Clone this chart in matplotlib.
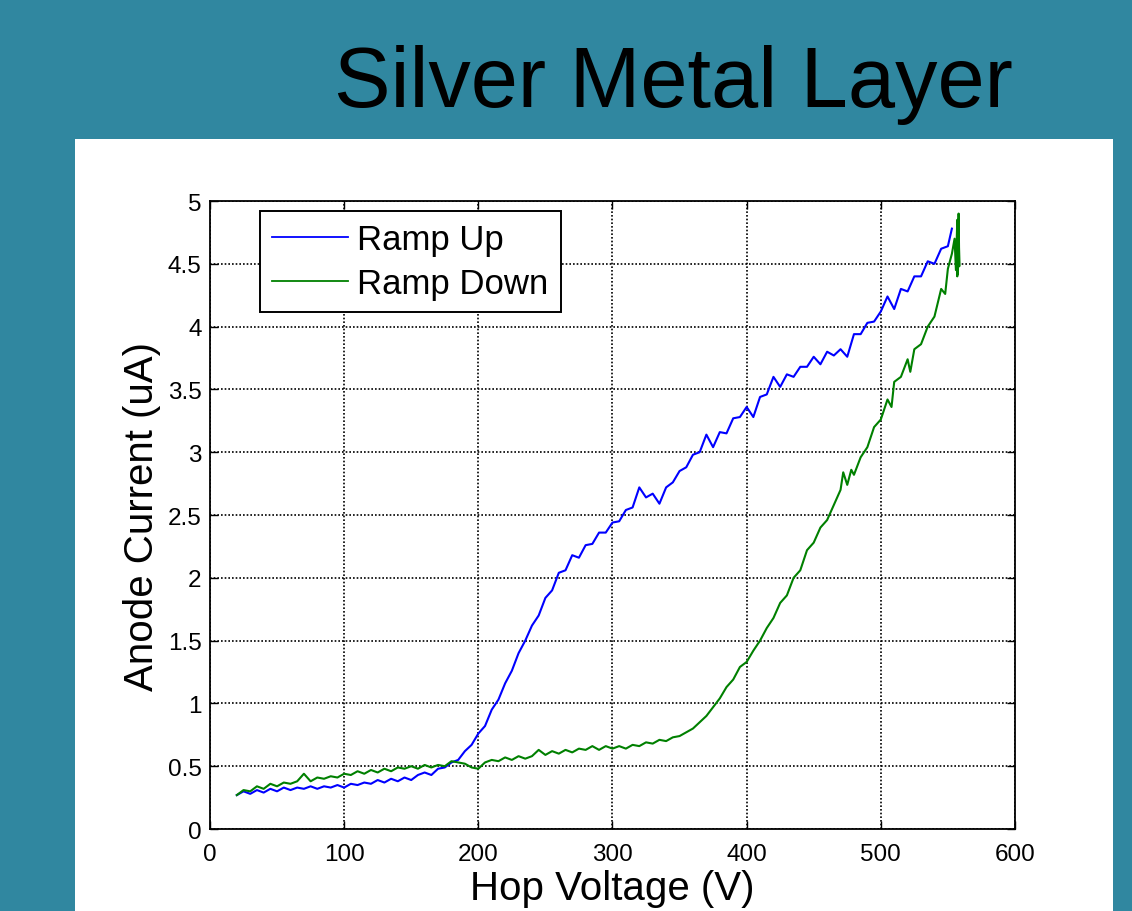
"""Anode current vs hop voltage for the silver metal layer sweep."""

import matplotlib

matplotlib.use("Agg")
import matplotlib.pyplot as plt
from matplotlib.patches import Rectangle

plt.rcParams["font.family"] = ["Liberation Sans", "DejaVu Sans"]

# ramp up sweep: hop voltage (V) and anode current (uA)
ramp_up_v = [
    20, 25, 30, 35, 40, 45, 50, 55, 60, 65,
    70, 75, 80, 85, 90, 95, 100, 105, 110, 115,
    120, 125, 130, 135, 140, 145, 150, 155, 160, 165,
    170, 175, 180, 185, 190, 195, 200, 205, 210, 215,
    220, 225, 230, 235, 240, 245, 250, 255, 260, 265,
    270, 275, 280, 285, 290, 295, 300, 305, 310, 315,
    320, 325, 330, 335, 340, 345, 350, 355, 360, 365,
    370, 375, 380, 385, 390, 395, 400, 405, 410, 415,
    420, 425, 430, 435, 440, 445, 450, 455, 460, 465,
    470, 475, 480, 485, 490, 495, 500, 505, 510, 515,
    520, 525, 530, 535, 540, 545, 550, 553,
]
ramp_up_i = [
    0.27, 0.30, 0.28, 0.31, 0.29, 0.32, 0.30, 0.33, 0.31, 0.33,
    0.32, 0.34, 0.32, 0.34, 0.33, 0.35, 0.33, 0.36, 0.35, 0.37,
    0.36, 0.39, 0.37, 0.40, 0.38, 0.41, 0.39, 0.43, 0.45, 0.43,
    0.48, 0.49, 0.53, 0.55, 0.62, 0.67, 0.76, 0.82, 0.95, 1.03,
    1.16, 1.26, 1.40, 1.50, 1.62, 1.70, 1.84, 1.90, 2.04, 2.06,
    2.18, 2.16, 2.26, 2.27, 2.36, 2.36, 2.44, 2.45, 2.54, 2.56,
    2.72, 2.64, 2.67, 2.59, 2.72, 2.76, 2.85, 2.88, 2.98, 3.00,
    3.14, 3.04, 3.16, 3.15, 3.27, 3.28, 3.36, 3.28, 3.44, 3.46,
    3.60, 3.52, 3.62, 3.60, 3.68, 3.68, 3.76, 3.70, 3.80, 3.77,
    3.82, 3.76, 3.94, 3.94, 4.03, 4.04, 4.12, 4.24, 4.14, 4.30,
    4.28, 4.40, 4.40, 4.52, 4.50, 4.62, 4.64, 4.78,
]

# ramp down sweep: hop voltage (V) and anode current (uA)
ramp_down_v = [
    20, 25, 30, 35, 40, 45, 50, 55, 60, 65,
    70, 75, 80, 85, 90, 95, 100, 105, 110, 115,
    120, 125, 130, 135, 140, 145, 150, 155, 160, 165,
    170, 175, 180, 185, 190, 195, 200, 205, 210, 215,
    220, 225, 230, 235, 240, 245, 250, 255, 260, 265,
    270, 275, 280, 285, 290, 295, 300, 305, 310, 315,
    320, 325, 330, 335, 340, 345, 350, 355, 360, 365,
    370, 375, 380, 385, 390, 395, 400, 405, 410, 415,
    420, 425, 430, 435, 440, 445, 450, 455, 460, 465,
    470, 472, 475, 478, 480, 485, 490, 495, 500, 505,
    508, 510, 515, 520, 522, 525, 530, 535, 540, 545,
    548, 550, 553, 555, 556, 557, 557.5, 558, 558.5, 558,
    557, 558,
]
ramp_down_i = [
    0.27, 0.31, 0.30, 0.34, 0.32, 0.36, 0.34, 0.37, 0.36, 0.38,
    0.44, 0.38, 0.41, 0.40, 0.42, 0.41, 0.44, 0.43, 0.46, 0.44,
    0.47, 0.45, 0.48, 0.46, 0.49, 0.48, 0.50, 0.48, 0.51, 0.49,
    0.51, 0.50, 0.54, 0.53, 0.52, 0.49, 0.48, 0.53, 0.55, 0.54,
    0.57, 0.55, 0.58, 0.56, 0.58, 0.63, 0.59, 0.62, 0.60, 0.63,
    0.61, 0.64, 0.63, 0.66, 0.63, 0.66, 0.64, 0.66, 0.64, 0.67,
    0.66, 0.69, 0.68, 0.71, 0.70, 0.73, 0.74, 0.77, 0.80, 0.85,
    0.90, 0.97, 1.04, 1.13, 1.19, 1.29, 1.33, 1.42, 1.50, 1.60,
    1.68, 1.80, 1.86, 2.00, 2.06, 2.22, 2.28, 2.40, 2.46, 2.58,
    2.70, 2.84, 2.74, 2.86, 2.82, 2.96, 3.04, 3.20, 3.26, 3.42,
    3.36, 3.56, 3.60, 3.74, 3.64, 3.82, 3.86, 4.00, 4.08, 4.30,
    4.26, 4.46, 4.58, 4.70, 4.45, 4.85, 4.42, 4.90, 4.48, 4.80,
    4.40, 4.60,
]

x_ticks = [0, 100, 200, 300, 400, 500, 600]
y_ticks = [0, 0.5, 1, 1.5, 2, 2.5, 3, 3.5, 4, 4.5, 5]
y_tick_labels = ["0", "0.5", "1", "1.5", "2", "2.5", "3", "3.5", "4", "4.5", "5"]

fig = plt.figure(figsize=(11.32, 9.12), dpi=100)
fig.patch.set_facecolor("#3087A0")
# white plot panel behind the axes
fig.patches.append(
    Rectangle((0.0663, 0.0), 0.9169, 0.8465, transform=fig.transFigure,
              facecolor="white", edgecolor="none", zorder=-10)
)
fig.text(0.5946, 0.8827, "Silver Metal Layer", fontsize=61, color="black",
         ha="center", va="baseline")

ax = fig.add_axes([0.1855, 0.0899, 0.7111, 0.6886])
ax.plot(ramp_up_v, ramp_up_i, color="#0000FF", linewidth=1.5, label="Ramp Up")
ax.plot(ramp_down_v, ramp_down_i, color="#008000", linewidth=1.5, label="Ramp Down")

ax.set_xlim(0, 600)
ax.set_ylim(0, 5)
ax.set_xticks(x_ticks)
ax.set_yticks(y_ticks)
ax.set_yticklabels(y_tick_labels)
ax.grid(True, color="black", linestyle=(0, (1, 1.2)), linewidth=1.2)
ax.tick_params(direction="in", length=6, width=1.0, top=True, right=True,
               labelsize=17.5)
ax.tick_params(axis="x", pad=10)
ax.tick_params(axis="y", pad=6)
for spine in ax.spines.values():
    spine.set_linewidth(1.3)

ax.set_xlabel("Hop Voltage (V)", fontsize=29, labelpad=3)
ax.set_ylabel("Anode Current (uA)", fontsize=29, labelpad=5)

leg = ax.legend(loc="upper left", bbox_to_anchor=(0.062, 0.984),
                borderaxespad=0, fontsize=25, fancybox=False, framealpha=1,
                edgecolor="black", handlelength=2.2, handletextpad=0.25,
                labelspacing=0.32, borderpad=0.35)
leg.get_frame().set_linewidth(1.4)
for handle in leg.get_lines():
    handle.set_linewidth(1.3)

fig.savefig("out.png", dpi=100, facecolor=fig.get_facecolor())
